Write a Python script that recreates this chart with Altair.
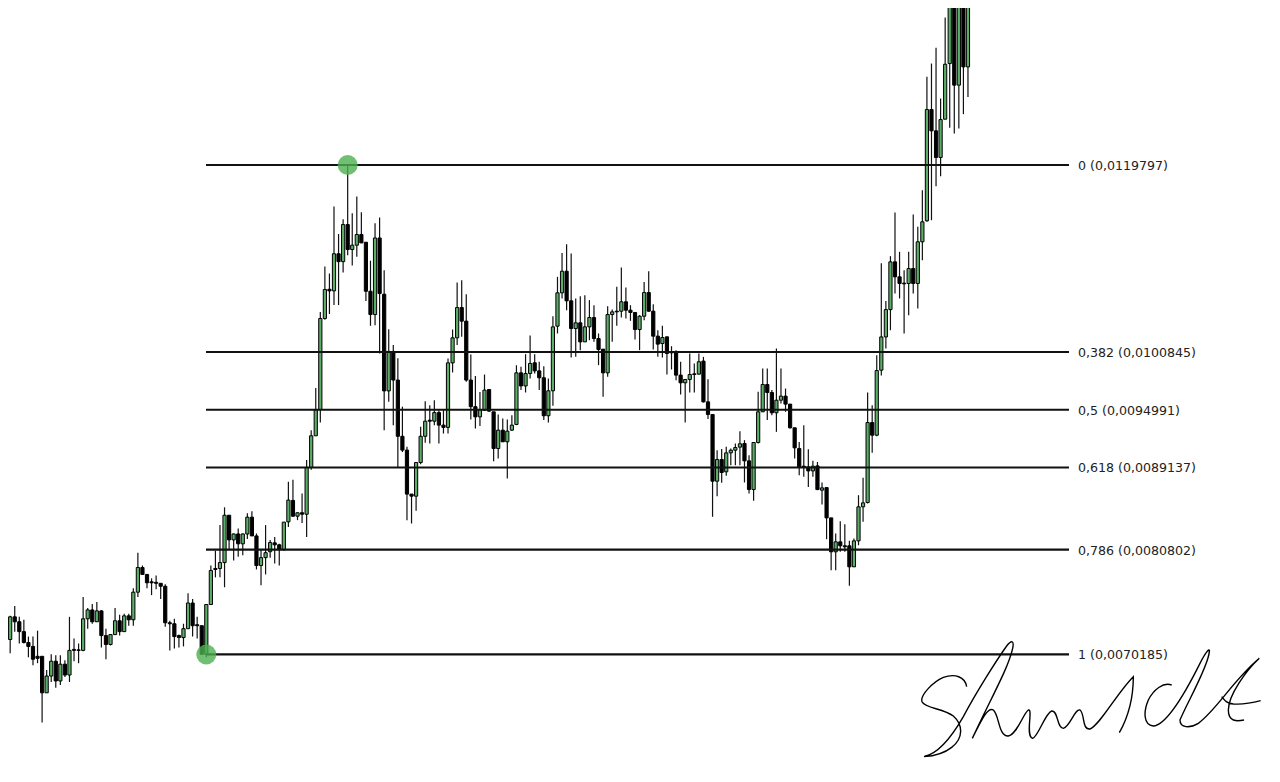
import altair as alt
import pandas as pd

# prices in units of 0.00001
directions = ("bbgbbbbbbb" "ggbgbgbbgg" "bgbbggbgbg" "gbbbbbbbbb" "ggbbbggbgg"
              "bgbggbbggg" "bbggbgbggg" "ggbgbgbggb" "bbgbbgbbbb" "bgggbgbbgg"
              "gbbbbggbbg" "bgggbggbbb" "ggggbbgbgg" "bbbggbgbbb" "ggbbbgbbbb"
              "ggbgbbbgbg" "gggbbgggbb" "ggbbbbbbgb" "gbbgbbbggg" "gbggggbbbg"
              "bgggbbgggb" "gbg")
body_top = [
 728,726,740,740,735,725,714,710,700,700,
 680,695,695,692,692,706,707,706.5,738,747,
 747,746,746,721,722,736,736,741,741,765,
 790,790,783,775.5,775,774,771,734,733,721,
 728,754,754,732,731,752.5,787,789,795,843,
 843,824,824,824,841,841,822,800,805,815.3,
 815,813,836,858.3,858,845.5,845.5,891.4,923.5,950,
 1042.4,1071.8,1072,1108,1108,1137.6,1137.6,1116.7,1127.5,1127.5,
 1119.7,1070,1124,1124,1067,1009,1009,980,923,909,
 864.4,896.4,923,938.3,939.3,947,947,934.3,997.4,1022.8,
 1053.5,1053.5,1039.7,980,953,950,969.8,970.4,947.8,929.2,
 929.2,928.2,934.3,987.3,987.3,986.6,996.8,997.5,989.3,982.3,
 969.1,1033.9,1068.4,1090.3,1090.3,1060.3,1038,1038,1033.9,1043.4,
 1043.4,1022.1,1011.3,1046.4,1049.1,1049.8,1059.3,1059.3,1050.8,1048.5,
 1044.7,1068.7,1068.7,1049.8,1024.5,1023.1,1023.8,1008.6,1007.9,985,
 980.6,985.6,986.3,998.5,999.2,957.9,945.1,899.5,899.5,906.2,
 908.9,911.6,915.4,915.7,898.1,916.7,947.8,975.5,975.5,967.4,
 959.6,963.7,963.7,955.6,931.6,910.6,892.7,892,892.7,893,
 870.7,871,840.3,816,816,812,812,817,851.5,855.5,
 936.9,936.9,989.6,1023.7,1051.4,1099.8,1099.8,1084.6,1078.2,1093,
 1093,1120.1,1140.4,1254.2,1254.2,1232.6,1244,1300.1,1375,1370,
 1375,1375,1375]
body_bottom = [
 726,717,717,735,725,714,710,697,698,663,
 663,680,675,675,681,681,706,706,706,738,
 735,735,721,712,712,722,725,725,737,737,
 765,783,774.5,774.5,774,771,734,733,720,719,
 719,728,731,731,702,702,752.5,788,789,795,
 818,818,814,814,824,822,792,792,800,806,
 813,808,808,836.3,842,842,844,844,891.4,923.5,
 950,1042.4,1070.4,1070.4,1100,1100,1112.3,1112.3,1116.7,1119,
 1070,1046.4,1046.4,1067.7,969,969,980,923,909,864.4,
 862.3,862.3,896.4,923,938.3,938.3,934.3,932,932,997.4,
 1022.8,1039.7,980,953,942.7,942.7,949.5,948.5,910.6,910.6,
 917.4,917.4,929.2,935,974,974,986.6,989.3,982.3,943.8,
 943.8,969.1,1034.6,1068.4,1060.3,1032.2,1032.2,1018.7,1018.7,1033.9,
 1022.1,1011,987.3,987.3,1046.4,1049.1,1049.8,1050.8,1048.5,1031.2,
 1031.2,1044.7,1049.8,1024.5,1016.4,1017,1006.9,1007.6,985,977.2,
 977.2,980.6,985.6,986,957.9,945.1,877.5,877.5,886.3,887,
 906.2,908.9,912,898.1,869,869,916.7,947.8,967.4,946.8,
 946.8,959.6,955.6,931.6,911.3,892,891.7,887.9,887.9,869,
 868.4,840.3,805.9,805.9,812,811,790.7,790.7,817,851.5,
 855.9,924.1,924.1,990,1023.7,1051.4,1084.6,1077.9,1077.5,1077.9,
 1077.9,1077.9,1120.1,1141.4,1232.6,1205.6,1205.6,1244.4,1300.8,1278.9,
 1278.9,1297.4,1297.4]
wick_high = [
 740,726,741,751,740,737,720,720,726,700,
 686,702,701,701,696,740,718,713,760,749,
 753,755,747,728,722,749,742,743,743,769,
 805,792,783,779,782,774,773,736,738,722,
 733,764,758,740,731,752.5,792,807,833,851,
 843,824.5,829.5,824.5,845,847,824.5,808,833,818,
 821,814,836,877,879,845.5,865,899,929,972,
 1049,1095,1088,1156,1128,1143,1198.5,1149,1166,1150,
 1119.7,1101,1139,1144.7,1091.3,1031.6,1015.4,1002,953,912.3,
 864.4,897,932.6,958.6,954.5,959.6,949.5,949.5,1001.8,1031.2,
 1078.9,1081.2,1067,1006,984,968,985.6,970.4,947.8,945,
 941,940,944.4,995,993.4,1006.2,1025.2,1006.2,998.5,994,
 981.6,1044.7,1084.6,1108.9,1117.7,1108.3,1062.7,1065,1066,1061,
 1055.9,1027.2,1011.3,1054.9,1051.5,1074.5,1094,1073.8,1055.9,1048.5,
 1045.8,1079.5,1090.3,1056.9,1030.6,1035,1023.8,1014.3,1010.3,998.5,
 980.6,1006.9,996.8,1006.9,1003.5,980.9,945.1,908.9,910,912.3,
 910.6,915.7,928.2,919.1,903.9,916.7,968.1,991.7,991.7,969.8,
 1012,991.7,971.4,955.6,931.6,917.3,934.2,909.9,898.1,897,
 876.1,871,840.3,824.4,837,833.9,817,819.4,863.3,880.9,
 967.3,954.5,1005.2,1098.4,1060,1105.6,1149.8,1110,1091.4,1110,
 1147.8,1135.3,1172.5,1287.3,1300.8,1316.7,1265.3,1347.4,1390,1385,
 1385,1385,1385]
wick_low = [
 723,683,703,725,713,713,699,691,693,633,
 663,674,668,671,679,674,695,693,705,728,
 733,735,709,697,711,722,721,725,731,731,
 760,783,769,762,768,758,730,706,708,709,
 710,728,720,718,702,699,752.5,780,780,770,
 808,797,801,802.5,819,822,788,772,783,800,
 794,792,807,831,841.5,838,835,821,889,923.5,
 937,1041,1047,1056,1056,1089,1106.6,1096,1105,1119,
 1060,1035,1035.6,1007,929.2,958,934.3,891.4,907,838,
 834.6,847.5,894.7,916.4,915.7,934.3,915.7,925.8,925.8,987.7,
 1015.4,1023.8,978.2,940,931,933.3,948.8,947.8,897.8,900.5,
 917.4,880.2,928.5,934.3,969.8,967.4,981.6,986.6,969.8,939.4,
 937,953.9,1027.2,1062.6,1050.8,1002.9,1003.5,1010.3,1018.7,1020.4,
 1018.7,995.1,963,983.3,1018.7,1035,1043.4,1042.4,1040,1021.1,
 1010.3,1040.7,1049.1,1011,1003.5,1002.9,985.6,990.7,979.9,965.4,
 937,967.4,967.4,985.6,957.2,940.4,841.4,862.3,875.8,883,
 893.7,893.7,893.7,876.2,865,857.6,915.7,947.8,939.4,944.4,
 927.5,956.2,947.8,930.9,900.5,883.5,881.9,871.7,881.9,868.4,
 853.8,818.7,787.3,787.3,805.9,805.9,771.4,790.7,812.6,836.3,
 854.8,906.2,923.1,984.6,1011.9,1030.5,1067.7,1062.7,1027.1,1045.7,
 1067.7,1052.5,1101.5,1140.4,1142,1176.5,1186.6,1244.4,1235.6,1229.9,
 1235,1249.5,1267]

level_prices = [1197.97, 1008.45, 949.91, 891.37, 808.02, 701.85]
level_labels = ["0 (0,0119797)", "0,382 (0,0100845)", "0,5 (0,0094991)",
                "0,618 (0,0089137)", "0,786 (0,0080802)", "1 (0,0070185)"]
pivot_index = [45, 76]
pivot_price = [701.85, 1197.97]

signature = ("M200,170 C195,140 165,130 130,142 C100,155 60,195 66,215 C75,235 130,235 160,258 "
             "C190,285 190,325 155,352 C130,372 100,378 72,380 C110,372 150,330 190,260 "
             "C230,185 290,90 320,48 C335,28 343,32 338,55 C325,115 270,210 217,325 "
             "C240,280 262,228 280,240 C298,255 295,320 325,318 C350,315 370,250 385,240 "
             "C400,235 375,320 398,325 C415,320 435,250 455,243 C475,240 470,295 490,295 "
             "C510,290 525,235 540,240 C555,250 545,300 570,297 C600,285 650,190 700,140 "
             "C700,200 685,260 658,308 "
             "M815,165 C790,155 760,180 745,210 C730,245 730,285 760,288 C800,285 860,180 900,100 "
             "C915,70 930,50 928,65 C925,110 860,220 840,270 C840,295 870,295 895,280 "
             "C950,240 1000,150 1078,85 C1040,120 985,195 985,240 C985,275 1010,275 1032,270 "
             "M965,200 C975,212 980,220 1000,222 C1030,224 1060,218 1082,212")

candles = pd.DataFrame({
    "i": list(range(len(body_top))), "top": body_top, "bottom": body_bottom,
    "high": wick_high, "low": wick_low, "dir": list(directions)})
levels = pd.DataFrame({"p": level_prices, "label": level_labels})
pivots = pd.DataFrame({"i": pivot_index, "p": pivot_price})

xs = alt.Scale(domain=[1.524, 278.66], nice=False, zero=False, padding=0)
ys = alt.Scale(domain=[580.7, 1357.1], nice=False, zero=False, padding=0)
X = alt.X("i:Q", scale=xs, axis=None)
Y = alt.Y("p:Q", scale=ys, axis=None)
color = alt.Color("dir:N", legend=None,
                  scale=alt.Scale(domain=["g", "b"], range=["#5CAF68", "#000000"]))

base = alt.Chart(candles)
wicks = base.mark_rule(strokeWidth=1.2, color="#111111").encode(
    x=X, y=alt.Y("high:Q", scale=ys, axis=None), y2="low:Q")
bodies = base.mark_bar(size=3.2, stroke="#000000", strokeWidth=1).encode(
    x=X, y=alt.Y("top:Q", scale=ys, axis=None), y2="bottom:Q", color=color)
lines = alt.Chart(levels).mark_rule(strokeWidth=2.2, color="#111111").encode(
    x=alt.value(198), x2=alt.value(1061), y=Y)
labels = alt.Chart(levels).mark_text(align="left", baseline="middle", font="DejaVu Sans",
                                     fontSize=12.6, dy=1, color="#222222").encode(
    x=alt.value(1070), y=Y, text="label:N")
dots = alt.Chart(pivots).mark_circle(size=400, color="#4CAF50", opacity=0.8).encode(x=X, y=Y)
sign = alt.Chart(pd.DataFrame({"a": [0]})).mark_point(
    shape=signature, size=4 / 9, filled=False, stroke="#000000", strokeWidth=1.4,
    opacity=1).encode(x=alt.value(892), y=alt.value(622))

chart = alt.layer(wicks, bodies, lines, labels, dots, sign).properties(
    width=1264, height=766, padding=0, background="#ffffff",
    autosize=alt.AutoSizeParams(type="none")
).configure_view(stroke=None)
chart.save("out.html", embed_options={"renderer": "svg", "actions": False})
